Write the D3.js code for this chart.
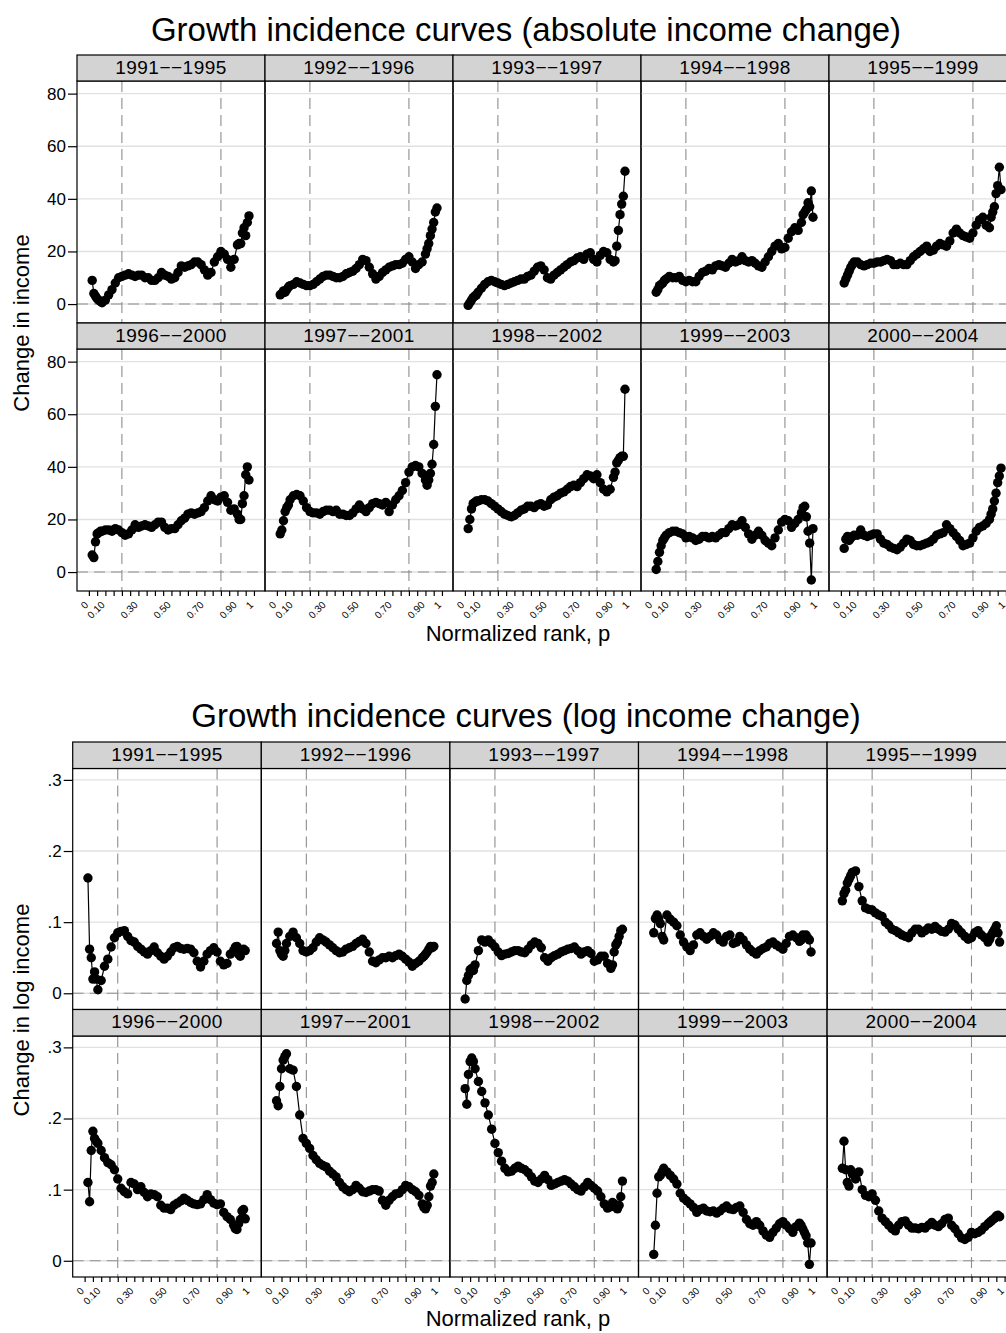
<!DOCTYPE html>
<html>
<head>
<meta charset="utf-8">
<script src="https://cdn.jsdelivr.net/npm/d3@7"></script>
<style>
  body { margin: 0; background: #fff; }
  svg { display: block; font-family: "Liberation Sans", Arial, Helvetica, sans-serif; }
</style>
</head>
<body>
<svg id="chart" width="1006" height="1333"></svg>
<script>
// normalized ranks where the curves are read (0.02..0.08 by .01, 0.10..0.88 by .02, 0.90..0.97 by .01)
const ranks = [0.02,0.03,0.04,0.05,0.06,0.07,0.08,
  0.10,0.12,0.14,0.16,0.18,0.20,0.22,0.24,0.26,0.28,0.30,0.32,0.34,0.36,0.38,0.40,0.42,0.44,0.46,0.48,
  0.50,0.52,0.54,0.56,0.58,0.60,0.62,0.64,0.66,0.68,0.70,0.72,0.74,0.76,0.78,0.80,0.82,0.84,0.86,0.88,
  0.90,0.91,0.92,0.93,0.94,0.95,0.96,0.97];

const periods = ['1991\u2212\u22121995','1992\u2212\u22121996','1993\u2212\u22121997','1994\u2212\u22121998','1995\u2212\u22121999',
                 '1996\u2212\u22122000','1997\u2212\u22122001','1998\u2212\u22122002','1999\u2212\u22122003','2000\u2212\u22122004'];

// absolute income change
const abs1991 = [9,4,3,2,1.5,1,0.5, 1.5,3.5,5.5,8,10,10.5,11,11.5,11,10.5,11,11,10,10,9,9,10,12,11,10.5,9.5,10,12,14.5,14,14.5,15,16,16,15,13,11,12,16,18,20,19,17,14,17, 22.5,23,23,27,29,26,31,33.5];
const abs1992 = [3.5,4,5,4.5,5.5,6.5,7, 7.5,8.5,8,7.5,7,7,7.5,8.5,9.5,10.5,11,11,10.5,10,10,10.5,11.5,12,12.5,13.5,15,17,16.5,14,11.5,9.5,10.5,12,13,14,14.5,15,15,15.5,17,18,16,13.5,15,16, 19,21,23,26,28.5,31,35,36.5];
const abs1993 = [-0.5,0.5,1.5,2.5,3,3.5,4.5, 6,7.5,8.5,9,8.5,8,7.5,7,7.5,8,8.5,9,9.5,9.5,10.5,11,12.5,14,14.5,13,10,9.5,11,12,13,14,15,16,16.5,17.5,18,17,19,19.5,17,16,18.5,20,19.5,17, 16,16.5,22,28,34,38,41,50.5];
const abs1994 = [4.5,5.5,7,7.5,8,9,9.5, 10.5,10,10,10.5,9,8.5,9,8.5,8.5,10.5,12,12.5,13.5,13,14.5,15,14.5,14,15.5,17,16,16.5,18,16.5,16,16.5,15.5,14.5,14,16,18,20,22,23,21,21.5,25,27.5,29,28, 31,34,35,36,38.5,37,43,33];
const abs1995 = [8,9.5,11,12.5,14,15,16, 16,15,14.5,15,15.5,15.5,16,16,16.5,17,16.5,15,15,15.5,15,15,16.5,18,19,20,21,22,20,20.5,22,23,22.5,22,24,27,28.5,27,26,25.5,25,27,30,32,33,30, 29,33,35,37,42,45,52,43.5];
const abs1996 = [6.5,5.5,11.5,14.5,15,15.5,15.5, 16,16,15.5,16.5,16,15,14,14.5,16,18,17,17.5,18,17.5,17,18,19,19,17,16,16.5,16.5,18,19.5,20.5,22,22.5,22,22.5,23,24.5,27,29,27.5,27,28.5,29,26.5,23.5,24, 22,20,20,26,29,37,40,35];
const abs1997 = [14.5,16,19.5,23,24.5,25.5,27.5, 29,29.5,29,27,24.5,23,22.5,22.5,22,23,23.5,23.5,23,23.5,22,22,21.5,21.5,22.5,24,25.5,24,23,24.5,26,26.5,26,25.5,26.5,23,25.5,27.5,29,31,34,38,40,40.5,40,37.5, 35,33,35,37.5,41,48.5,63,75];
const abs1998 = [16.5,20,24,26,26.5,27,27, 27.5,27.5,27,26,25,24,23,22,21.5,21,21.5,22.5,23.5,24,25,25,24.5,25.5,26,25,25.5,27.5,28.5,29,30,30.5,31.5,32.5,33,32.5,34,35.5,37,36.5,35.5,37,34,31.5,30.5,31.5, 36,38,41.5,42.5,43.5,44,44,69.5];
const abs1999 = [1,4,7.5,10,12,13,14, 15,15.5,15.5,15,14.5,13,13.5,13,12,12.5,13.5,13.5,13,13.5,13,14,15,15,16.5,18,17.5,18,19.5,17,14.5,12.5,14,15.5,14,12,11,10,13,16,19,20,19.5,17,18.5,20, 22.5,24.5,25,21,15.5,11,-3,16.5];
const abs2000 = [9,12.5,13.5,12,13,13.5,14, 14,16,14,13.5,14,14.5,14.5,12.5,11,10.5,9.5,9,8.5,9.5,11,12.5,12,10.5,10,10,10.5,11,11.5,12.5,14,14.5,15,18,16.5,15,13.5,12,10,10.5,11,13,15.5,17,17.5,18.5, 20,22,24,27,30,34,36.5,39.5];

// log income change
const log1991 = [.162,.062,.05,.02,.03,.02,.005, .018,.038,.048,.065,.078,.085,.087,.088,.08,.074,.072,.066,.062,.058,.055,.06,.065,.057,.052,.048,.052,.058,.064,.066,.063,.062,.063,.062,.057,.045,.037,.045,.055,.06,.064,.058,.045,.04,.042,.055, .06,.065,.066,.055,.052,.06,.062,.06];
const log1992 = [.07,.086,.06,.055,.052,.06,.07, .08,.086,.078,.07,.06,.058,.06,.064,.072,.078,.075,.072,.068,.064,.06,.057,.058,.062,.064,.066,.07,.073,.076,.07,.058,.045,.043,.047,.05,.05,.052,.05,.053,.055,.052,.048,.044,.038,.042,.045, .05,.052,.055,.058,.062,.066,.064,.066];
const log1993 = [-.008,.018,.025,.033,.035,.032,.04, .06,.075,.072,.075,.07,.065,.058,.053,.055,.056,.058,.06,.06,.058,.057,.062,.068,.072,.07,.064,.05,.045,.05,.053,.055,.058,.06,.062,.063,.065,.06,.055,.058,.06,.056,.045,.047,.052,.052,.042, .035,.04,.058,.068,.072,.08,.088,.09];
const log1994 = [.085,.105,.11,.105,.098,.08,.075, .11,.104,.1,.095,.082,.072,.065,.06,.068,.082,.085,.08,.076,.08,.085,.082,.075,.072,.08,.082,.07,.072,.08,.075,.068,.062,.058,.055,.06,.063,.065,.07,.072,.068,.065,.062,.07,.08,.082,.078, .073,.075,.082,.08,.082,.078,.075,.058];
const log1995 = [.13,.14,.145,.155,.16,.165,.17, .172,.15,.13,.12,.118,.117,.113,.11,.108,.1,.096,.09,.088,.085,.082,.08,.078,.085,.09,.09,.085,.088,.092,.09,.094,.09,.087,.086,.09,.098,.096,.09,.085,.08,.076,.078,.085,.088,.082,.078, .072,.076,.082,.086,.09,.095,.085,.072];
const log1996 = [.11,.083,.155,.182,.172,.168,.165, .155,.145,.138,.135,.128,.115,.102,.097,.094,.11,.108,.1,.104,.096,.09,.094,.093,.09,.078,.074,.074,.072,.078,.081,.084,.088,.085,.082,.08,.079,.08,.086,.093,.086,.081,.079,.08,.068,.062,.058, .05,.045,.044,.052,.058,.07,.072,.059];
const log1997 = [.225,.218,.245,.27,.282,.287,.291, .27,.268,.245,.205,.172,.165,.158,.148,.142,.137,.134,.132,.126,.122,.118,.11,.104,.1,.097,.1,.106,.102,.097,.096,.098,.1,.1,.098,.085,.078,.085,.09,.094,.095,.1,.106,.104,.1,.097,.092, .08,.075,.073,.078,.09,.105,.11,.122];
const log1998 = [.242,.22,.262,.28,.285,.28,.27, .252,.238,.222,.205,.185,.165,.152,.14,.13,.125,.126,.13,.133,.13,.128,.124,.118,.112,.11,.115,.12,.114,.106,.108,.11,.112,.114,.112,.108,.104,.1,.098,.104,.11,.106,.102,.098,.09,.08,.074, .076,.082,.08,.075,.073,.078,.09,.112];
const log1999 = [.009,.05,.095,.118,.12,.125,.13, .125,.12,.115,.108,.095,.088,.084,.08,.075,.068,.072,.074,.07,.069,.07,.067,.07,.074,.077,.073,.072,.075,.077,.068,.058,.052,.05,.055,.05,.042,.036,.033,.04,.046,.052,.055,.05,.045,.04,.048, .053,.05,.045,.04,.035,.025,-.005,.025];
const log2000 = [.13,.168,.128,.11,.105,.128,.122, .115,.125,.1,.092,.09,.094,.085,.07,.06,.055,.05,.045,.042,.05,.055,.056,.05,.046,.046,.045,.047,.046,.05,.054,.05,.048,.052,.058,.06,.05,.045,.038,.032,.03,.033,.04,.038,.04,.043,.048, .052,.054,.056,.058,.06,.063,.064,.062];

const absTicks = [0, 20, 40, 60, 80];
const logTicks = [0, 0.1, 0.2, 0.3];
const rankTicks = d3.range(0, 1.0001, 0.05);
const rankLabels = [0, 0.1, 0.3, 0.5, 0.7, 0.9, 1];
const refRanks = [0.2, 0.8];
const rankDomain = [-0.072, 1.067];

const svg = d3.select('#chart');

function fmtRank(d) {
  if (!rankLabels.some(v => Math.abs(v - d) < 1e-6)) return '';
  if (Math.abs(d) < 1e-6) return '0';
  if (Math.abs(d - 1) < 1e-6) return '1';
  return d.toFixed(2);
}

function drawFigure(f) {
  const g = svg.append('g');

  g.append('text')
    .attr('x', f.titleX).attr('y', f.titleY)
    .attr('text-anchor', 'middle').attr('font-size', 33)
    .text(f.title);

  f.series.forEach((vals, i) => {
    const col = i % 5, row = Math.floor(i / 5);
    const x0 = f.left + col * f.colW;
    const sy = f.top + row * (f.stripH + f.plotH);
    const py = sy + f.stripH;
    const x = d3.scaleLinear().domain(rankDomain).range([x0, x0 + f.colW]);
    const y = d3.scaleLinear().domain(f.yDomain).range([py + f.plotH, py]);
    const p = g.append('g');

    p.selectAll(null).data(f.yTicks).enter().append('line')
      .attr('x1', x0).attr('x2', x0 + f.colW)
      .attr('y1', d => y(d)).attr('y2', d => y(d))
      .attr('stroke', '#e1e1e1').attr('stroke-width', 1.4);

    p.selectAll(null).data(refRanks).enter().append('line')
      .attr('x1', d => x(d)).attr('x2', d => x(d))
      .attr('y1', py).attr('y2', py + f.plotH)
      .attr('stroke', '#8e8e8e').attr('stroke-width', 1.1)
      .attr('stroke-dasharray', '11,6');

    p.append('line')
      .attr('x1', x0).attr('x2', x0 + f.colW)
      .attr('y1', y(0)).attr('y2', y(0))
      .attr('stroke', '#8e8e8e').attr('stroke-width', 1.1)
      .attr('stroke-dasharray', '11,6');

    const pts = ranks.map((r, j) => [r, vals[j]]);
    p.append('path').datum(pts)
      .attr('d', d3.line().x(d => x(d[0])).y(d => y(d[1])))
      .attr('fill', 'none').attr('stroke', '#000').attr('stroke-width', 1.2);
    p.selectAll(null).data(pts).enter().append('circle')
      .attr('cx', d => x(d[0])).attr('cy', d => y(d[1]))
      .attr('r', 4.7).attr('fill', '#000');

    p.append('rect')
      .attr('x', x0).attr('y', py).attr('width', f.colW).attr('height', f.plotH)
      .attr('fill', 'none').attr('stroke', '#000').attr('stroke-width', 1.2);

    p.append('rect')
      .attr('x', x0).attr('y', sy).attr('width', f.colW).attr('height', f.stripH)
      .attr('fill', '#d3d3d3').attr('stroke', '#000').attr('stroke-width', 1.2);
    p.append('text')
      .attr('x', x0 + f.colW / 2).attr('y', sy + 18.5)
      .attr('text-anchor', 'middle').attr('font-size', 19)
      .attr('letter-spacing', 0.5)
      .text(periods[i]);

    if (col === 0) {
      const ya = p.append('g').attr('transform', `translate(${x0},0)`)
        .call(d3.axisLeft(y).tickValues(f.yTicks).tickFormat(f.yFmt).tickSize(9).tickPadding(2));
      ya.select('.domain').remove();
      ya.selectAll('line').attr('stroke', '#000').attr('stroke-width', 1.2);
      ya.selectAll('text').attr('font-size', 17).attr('font-family', null).attr('fill', '#000');
    }
    if (row === 1) {
      const xa = p.append('g').attr('transform', `translate(0,${py + f.plotH})`)
        .call(d3.axisBottom(x).tickValues(rankTicks).tickFormat(fmtRank).tickSize(5));
      xa.select('.domain').remove();
      xa.selectAll('line').attr('stroke', '#000').attr('stroke-width', 1.2);
      xa.selectAll('text')
        .attr('font-size', 10).attr('font-family', null).attr('fill', '#000')
        .attr('text-anchor', 'end').attr('dy', null).attr('y', 0)
        .attr('transform', 'translate(-0.5,14.5) rotate(-45)');
    }
  });

  g.append('text')
    .attr('transform', `translate(${f.yTitleX},${f.yTitleY}) rotate(-90)`)
    .attr('text-anchor', 'middle').attr('font-size', 22)
    .text(f.yTitle);
  g.append('text')
    .attr('x', f.xTitleX).attr('y', f.xTitleY)
    .attr('text-anchor', 'middle').attr('font-size', 22)
    .text('Normalized rank, p');
}

drawFigure({
  title: 'Growth incidence curves (absolute income change)',
  titleX: 526, titleY: 41,
  yTitle: 'Change in income', yTitleX: 29, yTitleY: 323,
  xTitleX: 518, xTitleY: 641,
  series: [abs1991, abs1992, abs1993, abs1994, abs1995, abs1996, abs1997, abs1998, abs1999, abs2000],
  yDomain: [-7.2, 84.8], yTicks: absTicks, yFmt: d => String(d),
  left: 77, colW: 188, top: 55, stripH: 26, plotH: 242
});

drawFigure({
  title: 'Growth incidence curves (log income change)',
  titleX: 526, titleY: 727,
  yTitle: 'Change in log income', yTitleX: 29, yTitleY: 1010,
  xTitleX: 518, xTitleY: 1326,
  series: [log1991, log1992, log1993, log1994, log1995, log1996, log1997, log1998, log1999, log2000],
  yDomain: [-0.0228, 0.316], yTicks: logTicks, yFmt: d => d === 0 ? '0' : d3.format('.1f')(d).replace(/^0/, ''),
  left: 72.7, colW: 188.6, top: 742, stripH: 26.5, plotH: 241
});
</script>
</body>
</html>
